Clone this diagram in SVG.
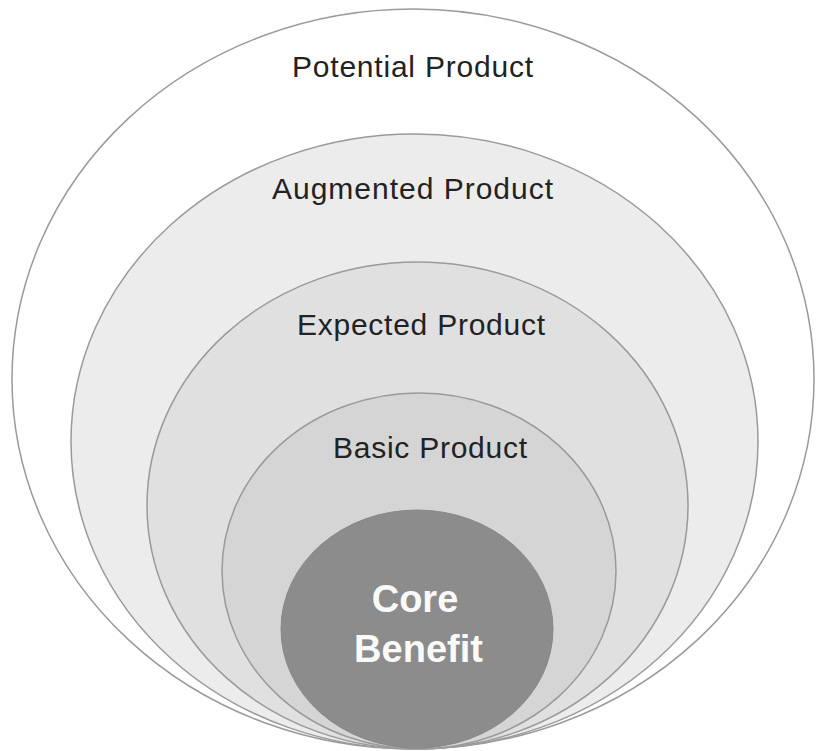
<svg xmlns="http://www.w3.org/2000/svg" width="816" height="751" viewBox="0 0 816 751">
<style>
.ring{stroke:#9a9a9a;stroke-width:1.5}
.lbl{font-family:"Liberation Sans",Arial,sans-serif;font-size:30px;fill:#222;text-anchor:middle}
.core{font-family:"Liberation Sans",Arial,sans-serif;font-size:38px;font-weight:bold;fill:#fafafa;text-anchor:middle}
</style>
<rect width="816" height="751" fill="#ffffff"/>
<g id="potential">
<ellipse class="ring" cx="413" cy="379" rx="401" ry="370" fill="#ffffff" stroke="#b0b0b0"/>
<text class="lbl" x="412.5" y="77" textLength="241" lengthAdjust="spacing">Potential Product</text>
</g>
<g id="augmented">
<ellipse class="ring" cx="414.5" cy="441.5" rx="343.5" ry="307.5" fill="#ececec"/>
<text class="lbl" x="412.5" y="199" textLength="281" lengthAdjust="spacing">Augmented Product</text>
</g>
<g id="expected">
<ellipse class="ring" cx="417.5" cy="505.5" rx="270.5" ry="243.5" fill="#e0e0e0"/>
<text class="lbl" x="421" y="335" textLength="248" lengthAdjust="spacing">Expected Product</text>
</g>
<g id="basic">
<ellipse class="ring" cx="419" cy="571" rx="197" ry="178" fill="#d5d5d5"/>
<text class="lbl" x="430" y="458" textLength="194" lengthAdjust="spacing">Basic Product</text>
</g>
<g id="core">
<ellipse cx="417" cy="629" rx="136" ry="119" fill="#8c8c8c" stroke="#888888" stroke-width="1"/>
<text class="core" x="415" y="612">Core</text>
<text class="core" x="418.5" y="662">Benefit</text>
</g>
<g id="connectors"/>
</svg>
